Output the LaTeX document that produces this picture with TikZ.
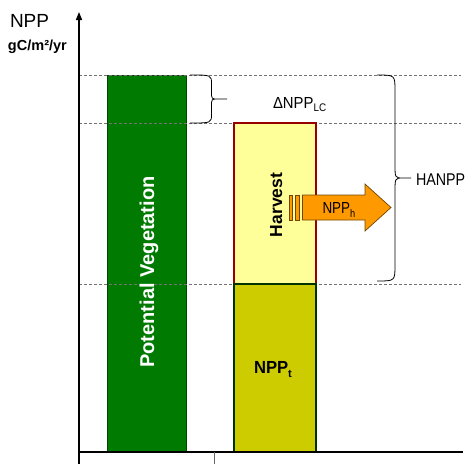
\documentclass[tikz,border=0pt]{standalone}
\usepackage{fontspec}
\setmainfont{Liberation Sans}
\usetikzlibrary{arrows.meta}

\definecolor{pvgreen}{RGB}{0,122,0}
\definecolor{pvedge}{RGB}{0,70,0}
\definecolor{harvfill}{RGB}{255,255,153}
\definecolor{harvedge}{RGB}{150,0,0}
\definecolor{nptfill}{RGB}{204,204,0}
\definecolor{nptedge}{RGB}{0,51,0}
\definecolor{arrfill}{RGB}{255,153,0}
\definecolor{arredge}{RGB}{110,70,0}

% font size shortcut, a lowered index (drop, size, text) and condensed text
\newcommand\fs[1]{\fontsize{#1}{#1}\selectfont}
\newcommand\lowidx[3]{\raisebox{-#1pt}{\fs{#2}#3}}
\newcommand\narrow[2]{\scalebox{#1}[1]{#2}}

\begin{document}
\begin{tikzpicture}[x=1pt,y=-1pt,
  bar/.style={anchor=north west, inner sep=0pt, outer sep=0pt},
  guide/.style={draw=black!55, line width=0.8pt, dash pattern=on 3pt off 2pt},
  axisline/.style={draw=black, line width=1.5pt},
  tickline/.style={draw=black!60, line width=0.8pt},
  bracket/.style={draw=black, line width=0.8pt},
  flow/.style={fill=arrfill, draw=arredge, line width=0.7pt, line join=miter},
  lbl/.style={inner sep=0pt, outer sep=0pt, anchor=base west}]

\useasboundingbox (0,0) rectangle (470,464);

% potential vegetation column
\node[bar, fill=pvgreen, draw=pvedge, line width=0.8pt,
      minimum width=79pt, minimum height=377pt] (pv) at (107,75) {};

% reference levels
\coordinate (l1a) at (79,75);  \coordinate (l1b) at (461,75);
\coordinate (l2a) at (79,123); \coordinate (l2b) at (461,123);
\coordinate (l3a) at (79,284); \coordinate (l3b) at (461,284);
\draw[guide] (l1a) -- (l1b);
\draw[guide] (l2a) -- (l2b);
\draw[guide] (l3a) -- (l3b);

% actual vegetation column: harvest on top of remaining NPP
\node[bar, fill=harvfill, draw=harvedge, line width=1.5pt,
      minimum width=82pt, minimum height=161pt] (harv) at (234,123) {};
\node[bar, fill=nptfill, draw=nptedge, line width=1.5pt,
      minimum width=82pt, minimum height=168pt] (nppt) at (234,284) {};

% axes
\coordinate (ybot) at (79,464);
\coordinate (ytop) at (79,12);
\coordinate (orig) at (79,452);
\coordinate (xend) at (463,452);
\coordinate (ticka) at (214,452);
\coordinate (tickb) at (214,464);
\draw[axisline, -{Triangle[length=8pt,width=6pt]}] (ybot) -- (ytop);
\draw[axisline] (orig) -- (xend);
\draw[tickline] (ticka) -- (tickb);

% striped arrow for harvested NPP
\filldraw[flow] (289,195) rectangle (292.5,220);
\filldraw[flow] (295,195) rectangle (299.5,220);
\filldraw[flow] (302.5,195) -- (365,195) -- (365,184) -- (391,207.5)
  -- (365,231) -- (365,220) -- (302.5,220) -- cycle;

% brace for land-cover change
\draw[bracket] (190,75) .. controls (211.5,75) .. (211.5,84) -- (211.5,92)
  .. controls (211.5,99) .. (218,99) -- (227,99)
  (218,99) .. controls (211.5,99) .. (211.5,106) -- (211.5,114)
  .. controls (211.5,123) .. (190,123);

% brace for HANPP
\draw[bracket] (377,75) .. controls (395,75) .. (395,91) -- (395,164)
  .. controls (395,178) .. (403,178) -- (411,178)
  (403,178) .. controls (395,178) .. (395,192) -- (395,265)
  .. controls (395,281) .. (377,281);

% labels
\node[lbl] (ylab) at (10,27) {\fs{19}NPP};
\node[lbl] (yunit) at (8,50) {\bfseries\fs{14.5}gC/m²/yr};
\node[inner sep=0pt, rotate=90, anchor=base, text=white] (pvtext) at (154,272)
  {\bfseries\fs{20}Potential Vegetation};
\node[inner sep=0pt, rotate=90, anchor=base] (harvtext) at (282,205)
  {\bfseries\fs{17.5}Harvest};
\node[lbl] (npptext) at (254,373)
  {\narrow{0.95}{\bfseries\fs{17.5}NPP}\lowidx{4}{11}{\bfseries t}};
\node[lbl] (npphtext) at (322.5,213.5)
  {\narrow{0.84}{\fs{16}NPP}\lowidx{4}{11}{\narrow{0.84}{h}}};
\node[lbl] (dlctext) at (273,108.3)
  {\narrow{0.93}{\fs{16}ΔNPP}\lowidx{2.7}{11}{\narrow{0.9}{LC}}};
\node[lbl] (hanpptext) at (416,185)
  {\narrow{0.84}{\fs{17}HANPP}};

\end{tikzpicture}
\end{document}
